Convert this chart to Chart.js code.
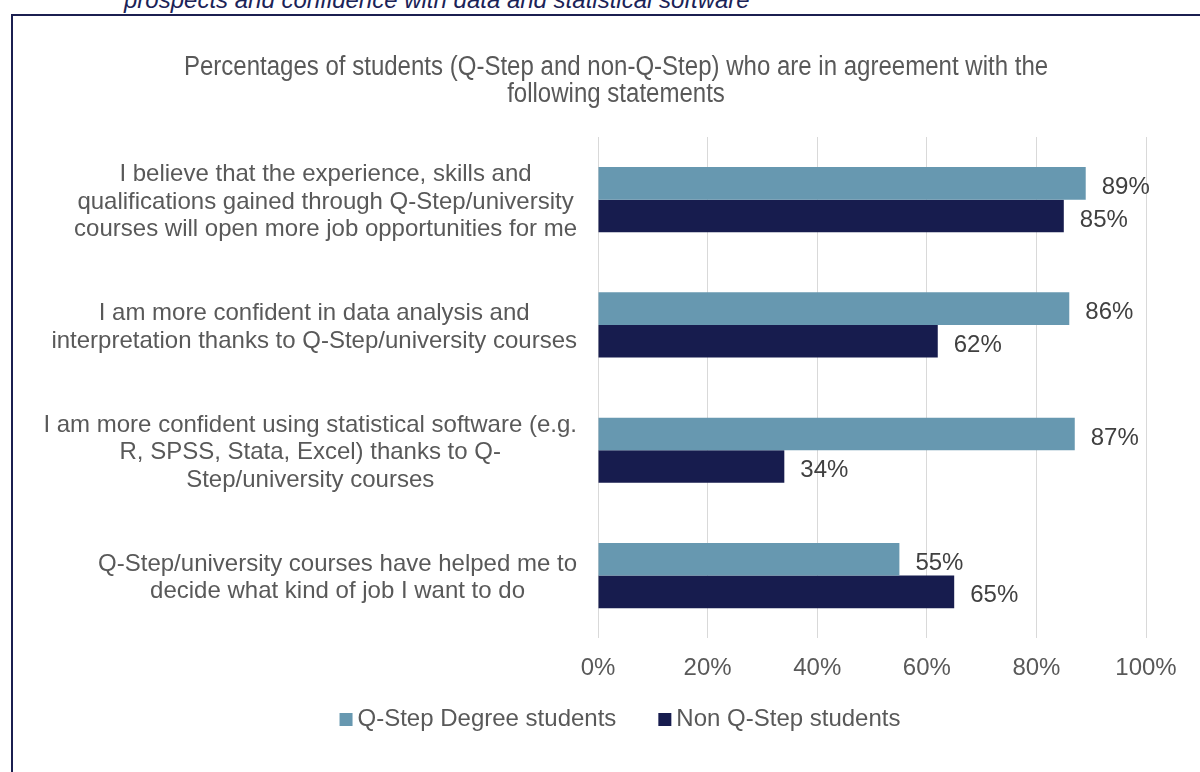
<!DOCTYPE html>
<html>
<head>
<meta charset="utf-8">
<script src="https://cdn.jsdelivr.net/npm/chart.js@4.4.0/dist/chart.umd.min.js"></script>
<style>
  html, body { margin: 0; padding: 0; background: #fff; overflow: hidden; }
  #wrap { position: relative; width: 1200px; height: 772px; }
  #frame {
    position: absolute; left: 11px; top: 14px; width: 1300px; height: 900px;
    border: 2px solid #1b1f50; box-sizing: border-box;
  }
  #caption {
    position: absolute; left: 124px; top: -12px; white-space: nowrap;
    font: italic 24px/24px "Liberation Sans", Arial, sans-serif; color: #1b2357;
  }
  canvas { position: absolute; left: 0; top: 0; }
</style>
</head>
<body>
<div id="wrap">
  <div id="caption">prospects and confidence with data and statistical software</div>
  <div id="frame"></div>
  <canvas id="chart" width="1200" height="772"></canvas>
</div>
<script>
const statements = [
  ["I believe that the experience, skills and", "qualifications gained through Q-Step/university", "courses will open more job opportunities for me"],
  ["I am more confident in data analysis and", "interpretation thanks to Q-Step/university courses"],
  ["I am more confident using statistical software (e.g.", "R, SPSS, Stata, Excel) thanks to Q-", "Step/university courses"],
  ["Q-Step/university courses have helped me to", "decide what kind of job I want to do"]
];
const qstepValues = [89, 86, 87, 55];
const nonQstepValues = [85, 62, 34, 65];
const seriesNames = ["Q-Step Degree students", "Non Q-Step students"];
const xTicks = [0, 20, 40, 60, 80, 100];
const titleLines = ["Percentages of students (Q-Step and non-Q-Step) who are in agreement with the", "following statements"];

const FONT = '"Liberation Sans", Arial, sans-serif';
const GREY = '#595959';

// condensed two-line heading above the plot
const heading = {
  id: 'heading',
  afterDraw(chart) {
    const { ctx } = chart;
    ctx.save();
    ctx.font = '27px ' + FONT;
    ctx.fillStyle = GREY;
    ctx.textAlign = 'center';
    ctx.textBaseline = 'alphabetic';
    titleLines.forEach((t, i) => {
      ctx.save();
      ctx.translate(616, 75 + i * 27);
      ctx.scale(0.89, 1);
      ctx.fillText(t, 0, 0);
      ctx.restore();
    });
    ctx.restore();
  }
};

// statement text left of the bars: block right-aligned, each line centred in it
const statementLabels = {
  id: 'statementLabels',
  afterDraw(chart) {
    const { ctx, scales: { y } } = chart;
    const right = y.right - 21;
    const lh = 27.5;
    ctx.save();
    ctx.font = '24px ' + FONT;
    ctx.fillStyle = GREY;
    ctx.textAlign = 'center';
    ctx.textBaseline = 'middle';
    statements.forEach((lines, i) => {
      const w = Math.max(...lines.map(l => ctx.measureText(l).width));
      const cx = right - w / 2;
      const cy = y.getPixelForValue(i) + 2.5;
      const top = cy - (lines.length - 1) * lh / 2;
      lines.forEach((l, j) => ctx.fillText(l, cx, top + j * lh));
    });
    ctx.restore();
  }
};

// percentage printed just past the end of each bar
const valueLabels = {
  id: 'valueLabels',
  afterDatasetsDraw(chart) {
    const { ctx } = chart;
    ctx.save();
    ctx.font = '24px ' + FONT;
    ctx.fillStyle = '#404040';
    ctx.textAlign = 'left';
    ctx.textBaseline = 'middle';
    chart.data.datasets.forEach((ds, di) => {
      chart.getDatasetMeta(di).data.forEach((bar, i) => {
        ctx.fillText(ds.data[i] + '%', bar.x + 16, bar.y + 4);
      });
    });
    ctx.restore();
  }
};

// legend row under the axis: small square, tight gap, then the series name
const legendRow = {
  id: 'legendRow',
  afterDraw(chart) {
    const { ctx } = chart;
    const box = 13, gap = 5, between = 42, base = 726;
    ctx.save();
    ctx.font = '24px ' + FONT;
    ctx.textBaseline = 'alphabetic';
    ctx.textAlign = 'left';
    const widths = chart.data.datasets.map(ds => ctx.measureText(ds.label).width);
    const total = widths.reduce((a, w) => a + box + gap + w, 0) + between * (widths.length - 1);
    let x = 620 - total / 2;
    chart.data.datasets.forEach((ds, i) => {
      ctx.fillStyle = ds.backgroundColor;
      ctx.fillRect(x, base - box, box, box);
      ctx.fillStyle = GREY;
      ctx.fillText(ds.label, x + box + gap, base);
      x += box + gap + widths[i] + between;
    });
    ctx.restore();
  }
};

new Chart(document.getElementById('chart'), {
  type: 'bar',
  data: {
    labels: statements.map(s => s.join(' ')),
    datasets: [
      { label: seriesNames[0], data: qstepValues, backgroundColor: '#6798b0' },
      { label: seriesNames[1], data: nonQstepValues, backgroundColor: '#171c4e' }
    ]
  },
  options: {
    indexAxis: 'y',
    responsive: false,
    animation: false,
    devicePixelRatio: 1,
    categoryPercentage: 0.52,
    barPercentage: 1,
    layout: { padding: { left: 0, right: 54, top: 137, bottom: 73 } },
    scales: {
      x: {
        min: 0, max: 100,
        afterBuildTicks: (s) => { s.ticks = xTicks.map(v => ({ value: v })); },
        grid: { color: '#d9d9d9', lineWidth: 1, drawTicks: false },
        border: { display: false },
        ticks: {
          padding: 16,
          color: GREY,
          font: { family: FONT, size: 24 },
          callback: v => v + '%'
        }
      },
      y: {
        grid: { display: false },
        border: { display: false },
        ticks: { display: false },
        afterFit: (s) => { s.width = 598; }
      }
    },
    plugins: {
      title: { display: false },
      legend: { display: false },
      tooltip: { enabled: false }
    }
  },
  plugins: [heading, statementLabels, valueLabels, legendRow]
});
</script>
</body>
</html>
